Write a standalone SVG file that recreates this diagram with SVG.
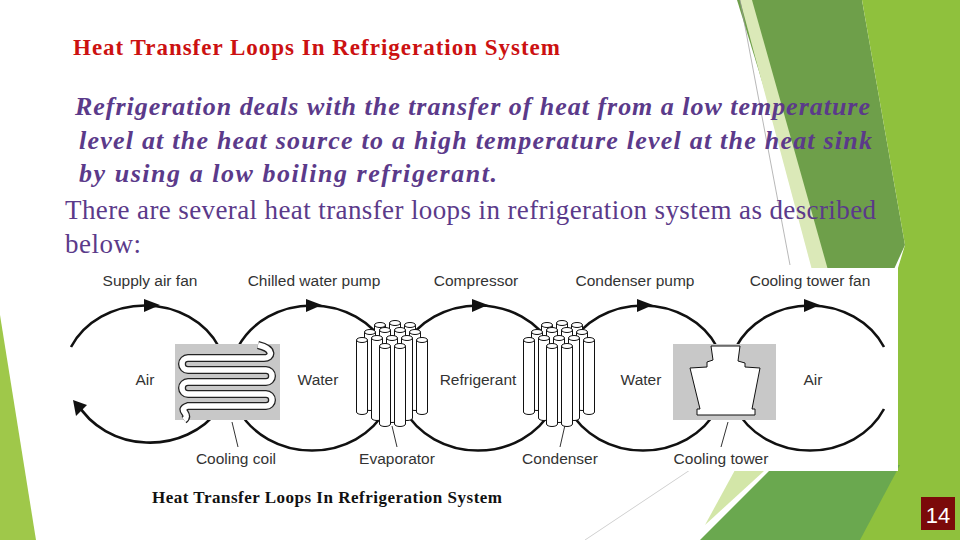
<svg xmlns="http://www.w3.org/2000/svg" xmlns:xlink="http://www.w3.org/1999/xlink" width="960" height="540" viewBox="0 0 960 540">
<style>
.lbl{font-family:"Liberation Sans",Arial,sans-serif;font-size:15.5px;fill:#333;text-anchor:middle}
.loop{fill:none;stroke:#111;stroke-width:2.6}
.arr{fill:#111}
.lead{stroke:#333;stroke-width:1}
.cyl{fill:#fff;stroke:#111;stroke-width:1}
.it{font-family:"Liberation Serif","Times New Roman",serif;font-size:26px;font-style:italic;font-weight:bold;fill:#5b3a8a}
.rg{font-family:"Liberation Serif","Times New Roman",serif;font-size:27px;fill:#5b3a8a}
</style>
<defs>
<g id="bundle">
<path class="cyl" d="M374.5 325v75a5.5 2.5 0 0 0 11 0v-75"/><ellipse class="cyl" cx="380" cy="325" rx="5.5" ry="2.5"/>
<path class="cyl" d="M389.5 323v77a5.5 2.5 0 0 0 11 0v-77"/><ellipse class="cyl" cx="395" cy="323" rx="5.5" ry="2.5"/>
<path class="cyl" d="M404.5 325v75a5.5 2.5 0 0 0 11 0v-75"/><ellipse class="cyl" cx="410" cy="325" rx="5.5" ry="2.5"/>
<path class="cyl" d="M364.5 332v76a5.5 2.5 0 0 0 11 0v-76"/><ellipse class="cyl" cx="370" cy="332" rx="5.5" ry="2.5"/>
<path class="cyl" d="M379.5 330v80a5.5 2.5 0 0 0 11 0v-80"/><ellipse class="cyl" cx="385" cy="330" rx="5.5" ry="2.5"/>
<path class="cyl" d="M394.5 330v80a5.5 2.5 0 0 0 11 0v-80"/><ellipse class="cyl" cx="400" cy="330" rx="5.5" ry="2.5"/>
<path class="cyl" d="M409.5 332v76a5.5 2.5 0 0 0 11 0v-76"/><ellipse class="cyl" cx="415" cy="332" rx="5.5" ry="2.5"/>
<path class="cyl" d="M356.5 340v72a5.5 2.5 0 0 0 11 0v-72"/><ellipse class="cyl" cx="362" cy="340" rx="5.5" ry="2.5"/>
<path class="cyl" d="M416.5 340v72a5.5 2.5 0 0 0 11 0v-72"/><ellipse class="cyl" cx="422" cy="340" rx="5.5" ry="2.5"/>
<path class="cyl" d="M371.5 338v80a5.5 2.5 0 0 0 11 0v-80"/><ellipse class="cyl" cx="377" cy="338" rx="5.5" ry="2.5"/>
<path class="cyl" d="M401.5 338v80a5.5 2.5 0 0 0 11 0v-80"/><ellipse class="cyl" cx="407" cy="338" rx="5.5" ry="2.5"/>
<path class="cyl" d="M386.5 338v82a5.5 2.5 0 0 0 11 0v-82"/><ellipse class="cyl" cx="392" cy="338" rx="5.5" ry="2.5"/>
<path class="cyl" d="M379.5 346v78a5.5 2.5 0 0 0 11 0v-78"/><ellipse class="cyl" cx="385" cy="346" rx="5.5" ry="2.5"/>
<path class="cyl" d="M394.5 346v78a5.5 2.5 0 0 0 11 0v-78"/><ellipse class="cyl" cx="400" cy="346" rx="5.5" ry="2.5"/>
</g>
</defs>
<rect width="960" height="540" fill="#fff"/>
<g id="background">
<polygon points="0,315 0,540 36,540" fill="#9fc84a"/>
<polygon points="737,0 862,0 905,245 880,300 820,270" fill="#6e9f4a"/>
<polygon points="740,0 752,0 828,270 812,270" fill="#dbe9b8"/>
<polygon points="862,0 960,0 960,540 815,540 905,245" fill="#8fc13d"/>
<polygon points="700,540 775,465 900,465 860,540" fill="#6aa84f"/>
<polygon points="735,470 765,470 705,525" fill="#d3e6a8"/>
<line x1="740" y1="0" x2="790" y2="265" stroke="#999" stroke-width="0.7"/>
<line x1="585" y1="540" x2="690" y2="470" stroke="#bbb" stroke-width="0.7"/>
</g>
<g id="text">
<text x="73" y="55" font-family="Liberation Serif,serif" font-size="23" font-weight="bold" fill="#cc1111" textLength="487">Heat Transfer Loops In Refrigeration System</text>
<text class="it" x="75" y="115" textLength="795">Refrigeration deals with the transfer of heat from a low temperature</text>
<text class="it" x="79" y="149" textLength="793">level at the heat source to a   high temperature level at the heat sink</text>
<text class="it" x="79" y="182" textLength="418">by using a low boiling refrigerant.</text>
<text class="rg" x="65" y="219" textLength="811">There are several heat transfer loops in refrigeration system as described</text>
<text class="rg" x="65" y="253" textLength="76">below:</text>
</g>
<rect x="62" y="268" width="836" height="203" fill="#fff"/>
<g id="connectors">
<path class="loop" d="M71 347A82 73 0 0 1 219 347M219 409A82 73 0 0 1 77 403"/>
<path class="loop" d="M238 347A82 73 0 0 1 386 347M386 409A82 73 0 0 1 238 409"/>
<path class="loop" d="M404 347A82 73 0 0 1 552 347M552 409A82 73 0 0 1 404 409"/>
<path class="loop" d="M569 347A82 73 0 0 1 717 347M717 409A82 73 0 0 1 569 409"/>
<path class="loop" d="M736 347A82 73 0 0 1 884 347M884 409A82 73 0 0 1 736 409"/>
<polygon class="arr" points="144,299 160,305 144,312"/>
<polygon class="arr" points="306,299 322,305 306,312"/>
<polygon class="arr" points="472,299 488,305 472,312"/>
<polygon class="arr" points="637,299 653,305 637,312"/>
<polygon class="arr" points="804,299 820,305 804,312"/>
<polygon class="arr" points="73,400 87,405 76,416"/>
<line class="lead" x1="232" y1="422" x2="238" y2="447"/>
<line class="lead" x1="392" y1="426" x2="397" y2="447"/>
<line class="lead" x1="565" y1="425" x2="560" y2="447"/>
<line class="lead" x1="728" y1="422" x2="721" y2="447"/>
</g>
<g id="cooling-coil">
<rect x="175" y="344" width="105" height="76" fill="#c8c8c8"/>
<path d="M258 345C275 349 272 358 264 358L188 358A6 6 0 0 0 188 370L266 370A6 6 0 0 1 266 382L188 382A6 6 0 0 0 188 394L266 394A6 6 0 0 1 266 406L188 406C176 410 192 414 184 420" fill="none" stroke="#222" stroke-width="8"/>
<path d="M258 345C275 349 272 358 264 358L188 358A6 6 0 0 0 188 370L266 370A6 6 0 0 1 266 382L188 382A6 6 0 0 0 188 394L266 394A6 6 0 0 1 266 406L188 406C176 410 192 414 184 420" fill="none" stroke="#fff" stroke-width="5.5"/>
</g>
<g id="evaporator"><use href="#bundle"/></g>
<g id="condenser"><use href="#bundle" transform="translate(167,0)"/></g>
<g id="cooling-tower">
<rect x="673" y="344" width="103" height="76" fill="#c8c8c8"/>
<polygon points="711,346 740,346 738,361 745,363 745,367 760,368 752,409 755,409 755,415 697,415 697,409 700,409 690,368 707,367 707,362 713,360" fill="#fff" stroke="#111" stroke-width="1"/>
</g>
<g id="labels">
<text class="lbl" x="150" y="286">Supply air fan</text>
<text class="lbl" x="314" y="286">Chilled water pump</text>
<text class="lbl" x="476" y="286">Compressor</text>
<text class="lbl" x="635" y="286">Condenser pump</text>
<text class="lbl" x="810" y="286">Cooling tower fan</text>
<text class="lbl" x="145" y="385">Air</text>
<text class="lbl" x="318" y="385">Water</text>
<text class="lbl" x="478" y="385">Refrigerant</text>
<text class="lbl" x="641" y="385">Water</text>
<text class="lbl" x="813" y="385">Air</text>
<text class="lbl" x="236" y="464">Cooling coil</text>
<text class="lbl" x="397" y="464">Evaporator</text>
<text class="lbl" x="560" y="464">Condenser</text>
<text class="lbl" x="721" y="464">Cooling tower</text>
</g>
<text x="152" y="503" font-family="Liberation Serif,serif" font-size="17" font-weight="bold" fill="#111" textLength="350">Heat Transfer Loops In Refrigeration System</text>
<g id="page-number">
<rect x="921" y="497" width="34" height="33" fill="#7b0a0a"/>
<text x="938" y="523" font-family="Liberation Sans,Arial,sans-serif" font-size="22" fill="#fff" text-anchor="middle">14</text>
</g>
</svg>
